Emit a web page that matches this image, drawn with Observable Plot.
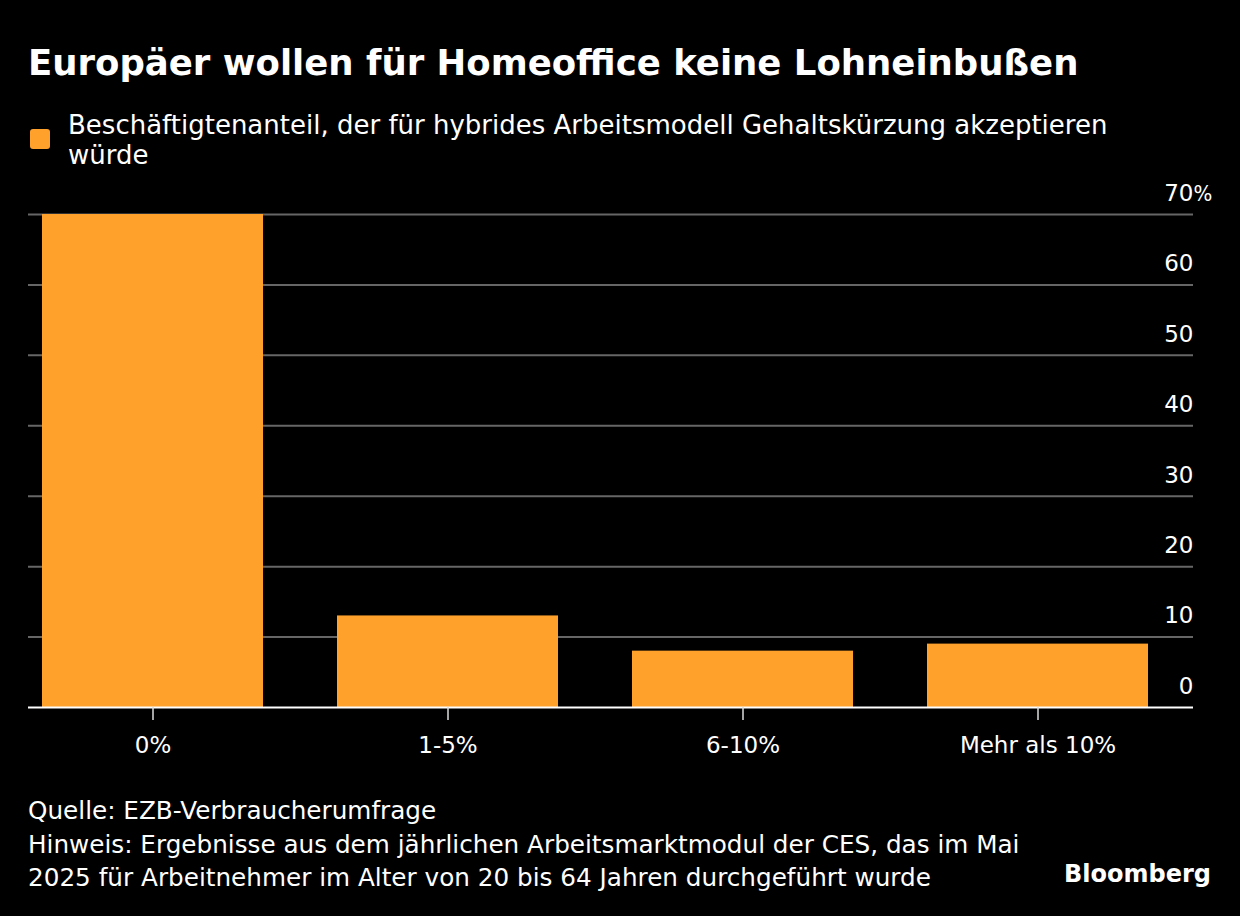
<!DOCTYPE html>
<html>
<head>
<meta charset="utf-8">
<script src="https://cdn.jsdelivr.net/npm/d3@7"></script>
<script src="https://cdn.jsdelivr.net/npm/@observablehq/plot@0.6"></script>
<style>
  html, body { margin:0; padding:0; background:#000; }
  body { width:1240px; height:916px; position:relative; overflow:hidden; color:#fff; font-family:"DejaVu Sans",sans-serif; }
  #title { position:absolute; left:28px; top:43px; font-weight:bold; font-size:35.5px; line-height:40px; white-space:nowrap; }
  #legend { position:absolute; left:28px; top:110px; width:1150px; }
  #legend .sw { position:absolute; left:2px; top:19px; width:20px; height:20px; border-radius:3px; background:#ffa12b; }
  #legend .tx { margin-left:40px; font-size:26px; line-height:30px; white-space:nowrap; }
  #chart { position:absolute; left:0; top:170px; }
  #foot { position:absolute; left:28px; top:794px; font-size:24.7px; line-height:33.5px; white-space:nowrap; }
  #brand { position:absolute; right:29px; top:856px; font-weight:bold; font-size:24px; line-height:36px; }
</style>
</head>
<body>
<div id="title">Europäer wollen für Homeoffice keine Lohneinbußen</div>
<div id="legend"><div class="sw"></div><div class="tx">Beschäftigtenanteil, der für hybrides Arbeitsmodell Gehaltskürzung akzeptieren<br>würde</div></div>
<div id="chart"></div>
<div id="foot">Quelle: EZB-Verbraucherumfrage<br>Hinweis: Ergebnisse aus dem jährlichen Arbeitsmarktmodul der CES, das im Mai<br>2025 für Arbeitnehmer im Alter von 20 bis 64 Jahren durchgeführt wurde</div>
<div id="brand">Bloomberg</div>
<script>
const categories = ["0%", "1-5%", "6-10%", "Mehr als 10%"];
const values = [70, 13, 8, 9];
const yTicks = [0, 10, 20, 30, 40, 50, 60, 70];

const data = categories.map((c, i) => ({cat: c, value: values[i]}));

const chart = Plot.plot({
  width: 1240,
  height: 605,
  marginTop: 44,
  marginBottom: 68,
  marginLeft: 28,
  marginRight: 47,
  style: {background: "#000", color: "#fff", fontFamily: "'DejaVu Sans',sans-serif", fontSize: "23px", overflow: "visible"},
  x: {domain: categories, range: [42, 1149], paddingInner: 0.25, paddingOuter: 0, label: null},
  y: {domain: [0, 70], label: null},
  marks: [
    Plot.ruleY(yTicks.filter(d => d > 0), {stroke: "#666", strokeWidth: 2}),
    Plot.barY(data, {x: "cat", y: "value", fill: "#ffa12b"}),
    Plot.ruleY([0], {stroke: "#fff", strokeWidth: 2}),
    Plot.axisX({tickSize: 13, tickPadding: 16, stroke: "#ddd", strokeWidth: 1.5, fill: "#fff", fontSize: 23}),
    Plot.axisY({anchor: "right", ticks: yTicks, tickSize: 0, tickPadding: 0, textAnchor: "end", dy: -21, tickFormat: d => String(d), fill: "#fff", fontSize: 23}),
    Plot.text([70], {y: d => d, frameAnchor: "right", text: () => "%", textAnchor: "start", dy: -21, fill: "#fff", fontSize: 22, fontFamily: "'DejaVu Sans Condensed','DejaVu Sans',sans-serif"})
  ]
});
document.getElementById("chart").appendChild(chart);
</script>
</body>
</html>
